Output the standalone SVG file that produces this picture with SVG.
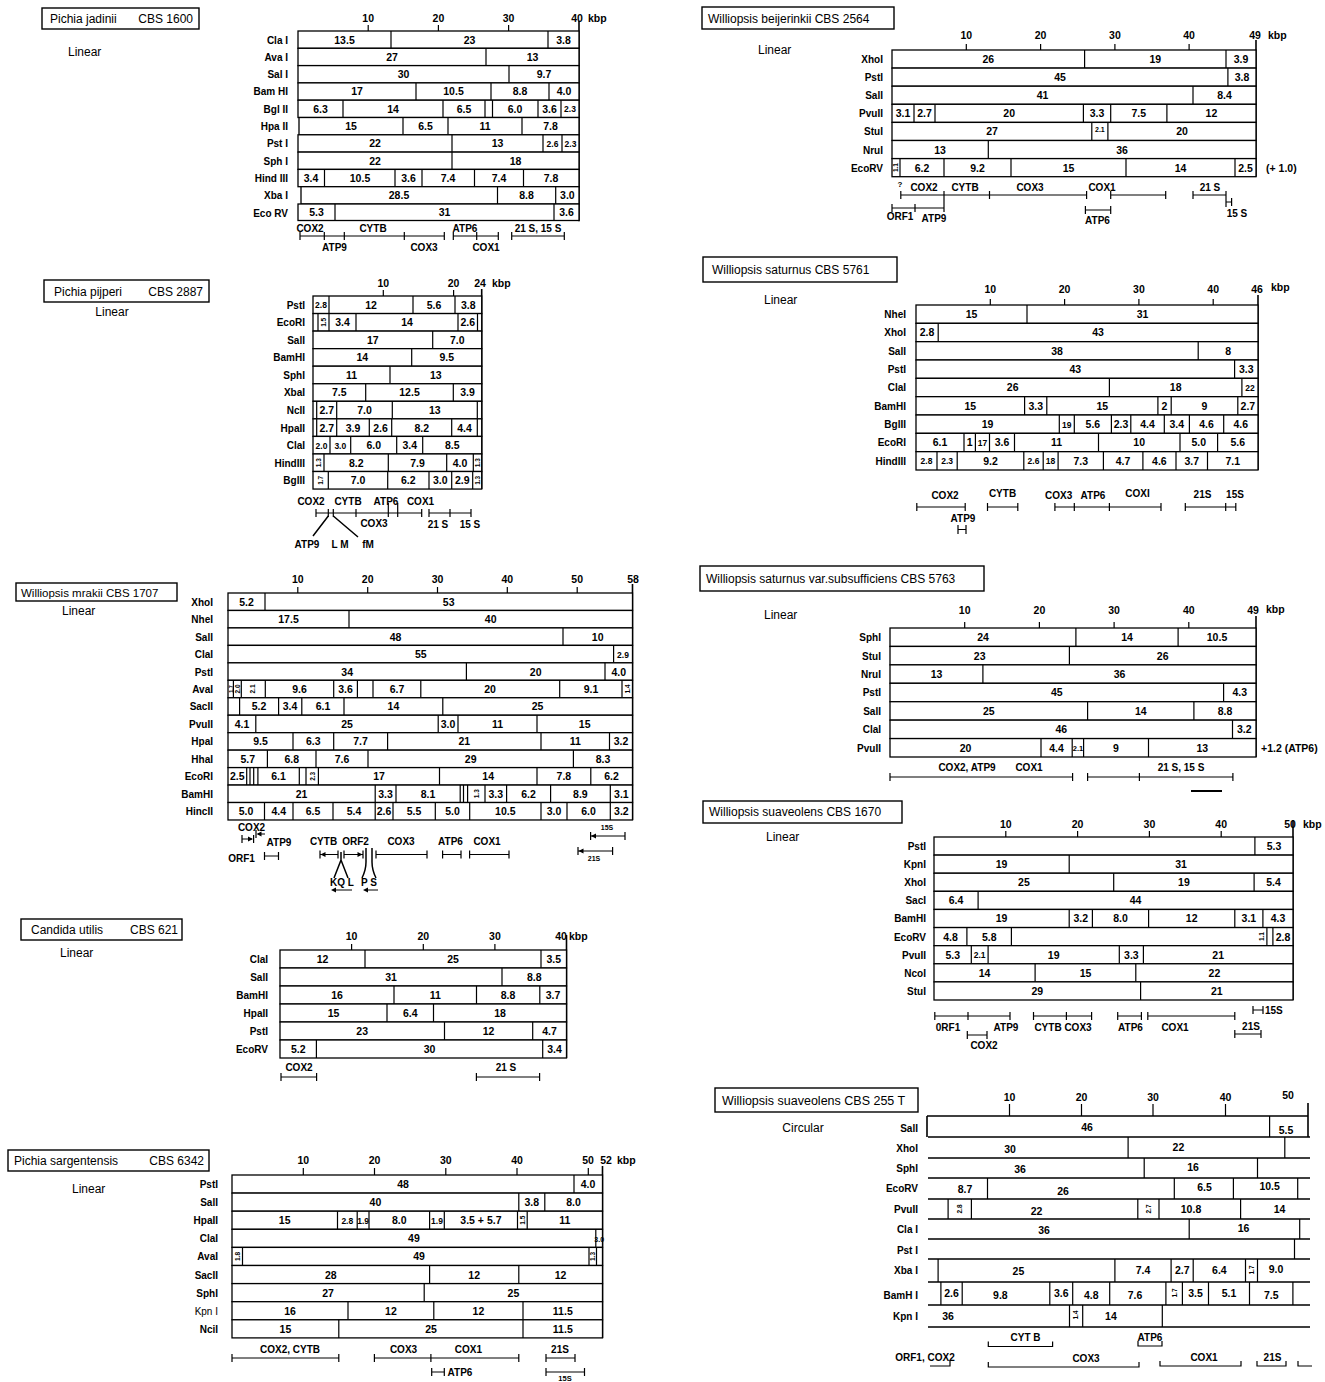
<svg xmlns="http://www.w3.org/2000/svg" width="1325" height="1382" viewBox="0 0 1325 1382">
<style>
text{font-family:"Liberation Sans",Arial,Helvetica,sans-serif;fill:#000}
.b{fill:#fff;stroke:#000;stroke-width:1.3}
.tb{fill:#fff;stroke:#000;stroke-width:1.4}
.c{fill:none;stroke:#000;stroke-width:1.2}
.ax{fill:none;stroke:#000;stroke-width:1.6}
.d{fill:none;stroke:#000;stroke-width:1.5}
.n{font-size:10.5px;font-weight:bold;text-anchor:middle}
.ns{font-size:10.5px;font-weight:bold}
.k{font-size:8.5px}
.r{font-size:6.5px;font-weight:bold;text-anchor:middle}
.e{font-size:10px;font-weight:bold;text-anchor:end}
.t{font-size:12px}
.g{font-size:10px;font-weight:bold;text-anchor:middle}
.gs{font-size:7px;font-weight:bold;text-anchor:middle}
</style>
<rect width="1325" height="1382" fill="#fff"/>

<g id="pichia-jadinii">
<rect class="tb" x="42" y="8" width="157" height="21"/>
<text class="t" x="50" y="23">Pichia jadinii</text>
<text class="t" x="193" y="23" text-anchor="end">CBS 1600</text>
<text class="t" x="68" y="56">Linear</text>
<path class="c" d="M368.2 25V31M438.4 25V31M508.6 25V31"/>
<path class="ax" d="M579 21V221.3"/>
<text class="n" x="368.2" y="22">10</text><text class="n" x="438.4" y="22">20</text><text class="n" x="508.6" y="22">30</text><text class="n" x="577" y="22">40</text><text class="ns" x="588" y="22">kbp</text>
<g transform="translate(0,31)"><text class="e" x="288" y="12.6">Cla I</text><rect class="b" x="298" width="281" height="17.3"/><path class="c" d="M391 0v17.3M548 0v17.3"/><text class="n" x="344.5" y="12.6">13.5</text><text class="n" x="469.5" y="12.6">23</text><text class="n" x="563.5" y="12.6">3.8</text></g>
<g transform="translate(0,48.3)"><text class="e" x="288" y="12.6">Ava I</text><rect class="b" x="298" width="281" height="17.3"/><path class="c" d="M486 0v17.3"/><text class="n" x="392" y="12.6">27</text><text class="n" x="532.5" y="12.6">13</text></g>
<g transform="translate(0,65.6)"><text class="e" x="288" y="12.6">Sal I</text><rect class="b" x="298" width="281" height="17.3"/><path class="c" d="M509 0v17.3"/><text class="n" x="403.5" y="12.6">30</text><text class="n" x="544" y="12.6">9.7</text></g>
<g transform="translate(0,82.9)"><text class="e" x="288" y="12.6">Bam HI</text><rect class="b" x="298" width="281" height="17.3"/><path class="c" d="M416 0v17.3M491 0v17.3M549 0v17.3"/><text class="n" x="357" y="12.6">17</text><text class="n" x="453.5" y="12.6">10.5</text><text class="n" x="520" y="12.6">8.8</text><text class="n" x="564" y="12.6">4.0</text></g>
<g transform="translate(0,100.2)"><text class="e" x="288" y="12.6">Bgl II</text><rect class="b" x="298" width="281" height="17.3"/><path class="c" d="M343 0v17.3M443 0v17.3M485 0v17.3M492.5 0v17.3M538 0v17.3M561 0v17.3"/><text class="n" x="320.5" y="12.6">6.3</text><text class="n" x="393" y="12.6">14</text><text class="n" x="464" y="12.6">6.5</text><text class="n" x="515" y="12.6">6.0</text><text class="n" x="549.5" y="12.6">3.6</text><text class="n k" x="570" y="12.3">2.3</text></g>
<g transform="translate(0,117.5)"><text class="e" x="288" y="12.6">Hpa II</text><rect class="b" x="299" width="280" height="17.3"/><path class="c" d="M403 0v17.3M448 0v17.3M522 0v17.3"/><text class="n" x="351" y="12.6">15</text><text class="n" x="425.5" y="12.6">6.5</text><text class="n" x="485" y="12.6">11</text><text class="n" x="550.5" y="12.6">7.8</text></g>
<g transform="translate(0,134.8)"><text class="e" x="288" y="12.6">Pst I</text><rect class="b" x="298" width="281" height="17.3"/><path class="c" d="M452 0v17.3M543 0v17.3M562 0v17.3"/><text class="n" x="375" y="12.6">22</text><text class="n" x="497.5" y="12.6">13</text><text class="n k" x="552.5" y="12.3">2.6</text><text class="n k" x="570.5" y="12.3">2.3</text></g>
<g transform="translate(0,152.1)"><text class="e" x="288" y="12.6">Sph I</text><rect class="b" x="298" width="281" height="17.3"/><path class="c" d="M452 0v17.3"/><text class="n" x="375" y="12.6">22</text><text class="n" x="515.5" y="12.6">18</text></g>
<g transform="translate(0,169.4)"><text class="e" x="288" y="12.6">Hind III</text><rect class="b" x="298" width="281" height="17.3"/><path class="c" d="M324.5 0v17.3M395 0v17.3M422 0v17.3M474.5 0v17.3M523.5 0v17.3"/><text class="n" x="311" y="12.6">3.4</text><text class="n" x="360" y="12.6">10.5</text><text class="n" x="408.5" y="12.6">3.6</text><text class="n" x="448" y="12.6">7.4</text><text class="n" x="499" y="12.6">7.4</text><text class="n" x="551" y="12.6">7.8</text></g>
<g transform="translate(0,186.7)"><text class="e" x="288" y="12.6">Xba I</text><rect class="b" x="301" width="278" height="17.3"/><path class="c" d="M497.5 0v17.3M555.7 0v17.3"/><text class="n" x="399" y="12.6">28.5</text><text class="n" x="526.6" y="12.6">8.8</text><text class="n" x="567.4" y="12.6">3.0</text></g>
<g transform="translate(0,204)"><text class="e" x="288" y="12.6">Eco RV</text><rect class="b" x="298" width="281" height="16.5"/><path class="c" d="M335 0v16.5M554 0v16.5"/><text class="n" x="316.5" y="12.4">5.3</text><text class="n" x="444.5" y="12.4">31</text><text class="n" x="566.5" y="12.4">3.6</text></g>
<path class="c" d="M300 236H444.3M453.3 236H498.3M511.7 236H564.3M300 232v8M324.3 232v8M344.3 232v8M404.3 232v8M444.3 232v8M453.3 232v8M476.7 232v8M498.3 232v8M511.7 232v8M564.3 232v8"/>
<text class="g" x="310" y="232">COX2</text><text class="g" x="373" y="232">CYTB</text><text class="g" x="465" y="232">ATP6</text><text class="g" x="538" y="232">21 S, 15 S</text>
<text class="g" x="334.5" y="251">ATP9</text><text class="g" x="424" y="251">COX3</text><text class="g" x="486" y="251">COX1</text>
</g>

<g id="pichia-pijperi">
<rect class="tb" x="44" y="280" width="165" height="22"/>
<text class="t" x="54" y="296">Pichia pijperi</text>
<text class="t" x="203" y="296" text-anchor="end">CBS 2887</text>
<text class="t" x="112" y="316" text-anchor="middle">Linear</text>
<path class="c" d="M383.3 290V296M453.6 290V296"/>
<path class="ax" d="M481.7 289V489"/>
<text class="n" x="383.3" y="287">10</text><text class="n" x="453.6" y="287">20</text><text class="n" x="480" y="287">24</text><text class="ns" x="492" y="287">kbp</text>
<g transform="translate(0,296)"><text class="e" x="305" y="12.7">PstI</text><rect class="b" x="313" width="168.7" height="17.55"/><path class="c" d="M329 0v17.55M413 0v17.55M455 0v17.55"/><text class="n k" x="321" y="12.4">2.8</text><text class="n" x="371" y="12.7">12</text><text class="n" x="434" y="12.7">5.6</text><text class="n" x="468.3" y="12.7">3.8</text></g>
<g transform="translate(0,313.55)"><text class="e" x="305" y="12.7">EcoRI</text><rect class="b" x="313" width="168.7" height="17.55"/><path class="c" d="M318 0v17.55M329 0v17.55M356 0v17.55M458 0v17.55M477.5 0v17.55"/><text class="r" transform="translate(323.5,8.8) rotate(-90)" y="2.3">1.5</text><text class="n" x="342.5" y="12.7">3.4</text><text class="n" x="407" y="12.7">14</text><text class="n" x="467.7" y="12.7">2.6</text></g>
<g transform="translate(0,331.1)"><text class="e" x="305" y="12.7">SalI</text><rect class="b" x="313" width="168.7" height="17.55"/><path class="c" d="M432.7 0v17.55"/><text class="n" x="372.8" y="12.7">17</text><text class="n" x="457.2" y="12.7">7.0</text></g>
<g transform="translate(0,348.65)"><text class="e" x="305" y="12.7">BamHI</text><rect class="b" x="313" width="168.7" height="17.55"/><path class="c" d="M411.7 0v17.55"/><text class="n" x="362.3" y="12.7">14</text><text class="n" x="446.7" y="12.7">9.5</text></g>
<g transform="translate(0,366.2)"><text class="e" x="305" y="12.7">SphI</text><rect class="b" x="313" width="168.7" height="17.55"/><path class="c" d="M390 0v17.55"/><text class="n" x="351.5" y="12.7">11</text><text class="n" x="435.8" y="12.7">13</text></g>
<g transform="translate(0,383.75)"><text class="e" x="305" y="12.7">XbaI</text><rect class="b" x="313" width="168.7" height="17.55"/><path class="c" d="M365.7 0v17.55M453.3 0v17.55"/><text class="n" x="339.3" y="12.7">7.5</text><text class="n" x="409.5" y="12.7">12.5</text><text class="n" x="467.5" y="12.7">3.9</text></g>
<g transform="translate(0,401.3)"><text class="e" x="305" y="12.7">NcII</text><rect class="b" x="313" width="168.7" height="17.55"/><path class="c" d="M316.7 0v17.55M336.7 0v17.55M392.3 0v17.55M477.3 0v17.55"/><text class="n" x="326.7" y="12.7">2.7</text><text class="n" x="364.5" y="12.7">7.0</text><text class="n" x="434.8" y="12.7">13</text></g>
<g transform="translate(0,418.85)"><text class="e" x="305" y="12.7">HpaII</text><rect class="b" x="313" width="168.7" height="17.55"/><path class="c" d="M316.7 0v17.55M336.7 0v17.55M369.3 0v17.55M391.7 0v17.55M451.7 0v17.55M477.3 0v17.55"/><text class="n" x="326.7" y="12.7">2.7</text><text class="n" x="353" y="12.7">3.9</text><text class="n" x="380.5" y="12.7">2.6</text><text class="n" x="421.7" y="12.7">8.2</text><text class="n" x="464.5" y="12.7">4.4</text></g>
<g transform="translate(0,436.4)"><text class="e" x="305" y="12.7">ClaI</text><rect class="b" x="313" width="168.7" height="17.55"/><path class="c" d="M330 0v17.55M350.7 0v17.55M396.7 0v17.55M422.7 0v17.55"/><text class="n k" x="321.5" y="12.4">2.0</text><text class="n k" x="340.3" y="12.4">3.0</text><text class="n" x="373.7" y="12.7">6.0</text><text class="n" x="409.7" y="12.7">3.4</text><text class="n" x="452.2" y="12.7">8.5</text></g>
<g transform="translate(0,453.95)"><text class="e" x="305" y="12.7">HindIII</text><rect class="b" x="313" width="168.7" height="17.55"/><path class="c" d="M324 0v17.55M388.3 0v17.55M446.7 0v17.55M473.3 0v17.55"/><text class="r" transform="translate(318.5,8.8) rotate(-90)" y="2.3">1.3</text><text class="n" x="356.2" y="12.7">8.2</text><text class="n" x="417.5" y="12.7">7.9</text><text class="n" x="460" y="12.7">4.0</text><text class="r" transform="translate(477.5,8.8) rotate(-90)" y="2.3">1.3</text></g>
<g transform="translate(0,471.5)"><text class="e" x="305" y="12.7">BglII</text><rect class="b" x="313" width="168.7" height="17.55"/><path class="c" d="M328.3 0v17.55M387.7 0v17.55M429 0v17.55M451.7 0v17.55M472.7 0v17.55"/><text class="r" transform="translate(320.7,8.8) rotate(-90)" y="2.3">1.7</text><text class="n" x="358" y="12.7">7.0</text><text class="n" x="408.3" y="12.7">6.2</text><text class="n" x="440.3" y="12.7">3.0</text><text class="n" x="462.2" y="12.7">2.9</text><text class="r" transform="translate(477.2,8.8) rotate(-90)" y="2.3">1.3</text></g>
<path class="c" d="M316 513H421.7M316 509v8M328.3 509v8M333.3 509v8M356 509v8M421.7 509v8M388.3 503v14M397.7 503v14M429 513H471M429 509v8M450 509v8M471 509v8"/>
<path class="d" d="M328.3 516L313 536M333.3 516L358 537"/>
<text class="g" x="311" y="505">COX2</text><text class="g" x="348" y="505">CYTB</text><text class="g" x="386" y="505">ATP6</text><text class="g" x="420.5" y="505">COX1</text>
<text class="g" x="374" y="527">COX3</text><text class="g" x="438" y="528">21 S</text><text class="g" x="470" y="528">15 S</text>
<text class="g" x="307" y="548">ATP9</text><text class="g" x="340" y="548">L M</text><text class="g" x="368" y="548">fM</text>
</g>

<g id="williopsis-mrakii">
<rect class="tb" x="16" y="583" width="161" height="18"/>
<text class="t" x="21" y="597" style="font-size:11.5px">Williopsis mrakii  CBS 1707</text>
<text class="t" x="62" y="615">Linear</text>
<path class="c" d="M297.8 587V593M367.7 587V593M437.5 587V593M507.3 587V593M577.2 587V593"/>
<path class="ax" d="M632.5 584V820"/>
<text class="n" x="297.8" y="583">10</text><text class="n" x="367.7" y="583">20</text><text class="n" x="437.5" y="583">30</text><text class="n" x="507.3" y="583">40</text><text class="n" x="577.2" y="583">50</text><text class="n" x="633" y="583">58</text>
<g transform="translate(0,593)"><text class="e" x="213" y="12.7">XhoI</text><rect class="b" x="228" width="404.5" height="17.46"/><path class="c" d="M265 0v17.46"/><text class="n" x="246.5" y="12.7">5.2</text><text class="n" x="448.7" y="12.7">53</text></g>
<g transform="translate(0,610.46)"><text class="e" x="213" y="12.7">NheI</text><rect class="b" x="228" width="404.5" height="17.46"/><path class="c" d="M349 0v17.46"/><text class="n" x="288.5" y="12.7">17.5</text><text class="n" x="490.7" y="12.7">40</text></g>
<g transform="translate(0,627.92)"><text class="e" x="213" y="12.7">SalI</text><rect class="b" x="228" width="404.5" height="17.46"/><path class="c" d="M563 0v17.46"/><text class="n" x="395.5" y="12.7">48</text><text class="n" x="597.7" y="12.7">10</text></g>
<g transform="translate(0,645.38)"><text class="e" x="213" y="12.7">ClaI</text><rect class="b" x="228" width="404.5" height="17.46"/><path class="c" d="M613.6 0v17.46"/><text class="n" x="420.8" y="12.7">55</text><text class="n k" x="623" y="12.4">2.9</text></g>
<g transform="translate(0,662.84)"><text class="e" x="213" y="12.7">PstI</text><rect class="b" x="228" width="404.5" height="17.46"/><path class="c" d="M466.4 0v17.46M605 0v17.46"/><text class="n" x="347.2" y="12.7">34</text><text class="n" x="535.7" y="12.7">20</text><text class="n" x="618.7" y="12.7">4.0</text></g>
<g transform="translate(0,680.3)"><text class="e" x="213" y="12.7">AvaI</text><rect class="b" x="228" width="404.5" height="17.46"/><path class="c" d="M233.4 0v17.46M241.3 0v17.46M265.3 0v17.46M333.7 0v17.46M357.4 0v17.46M373 0v17.46M420.8 0v17.46M559.7 0v17.46M622 0v17.46"/><text class="r" transform="translate(230.8,8.7) rotate(-90)" y="2.3" style="font-size:5.5px">1.7</text><text class="r" transform="translate(237.4,8.7) rotate(-90)" y="2.3">2.0</text><text class="r" transform="translate(253,8.7) rotate(-90)" y="2.3">2.1</text><text class="n" x="299.5" y="12.7">9.6</text><text class="n" x="345.5" y="12.7">3.6</text><text class="n" x="397" y="12.7">6.7</text><text class="n" x="490" y="12.7">20</text><text class="n" x="591" y="12.7">9.1</text><text class="r" transform="translate(627.2,8.7) rotate(-90)" y="2.3">1.4</text></g>
<g transform="translate(0,697.76)"><text class="e" x="213" y="12.7">SacII</text><rect class="b" x="228" width="404.5" height="17.46"/><path class="c" d="M239.6 0v17.46M278.6 0v17.46M301.8 0v17.46M344 0v17.46M442.8 0v17.46"/><text class="n" x="259" y="12.7">5.2</text><text class="n" x="290" y="12.7">3.4</text><text class="n" x="323" y="12.7">6.1</text><text class="n" x="393.4" y="12.7">14</text><text class="n" x="537.6" y="12.7">25</text></g>
<g transform="translate(0,715.22)"><text class="e" x="213" y="12.7">PvuII</text><rect class="b" x="228" width="404.5" height="17.46"/><path class="c" d="M255.8 0v17.46M438.2 0v17.46M458 0v17.46M537 0v17.46"/><text class="n" x="242" y="12.7">4.1</text><text class="n" x="347" y="12.7">25</text><text class="n" x="448" y="12.7">3.0</text><text class="n" x="497.5" y="12.7">11</text><text class="n" x="584.7" y="12.7">15</text></g>
<g transform="translate(0,732.68)"><text class="e" x="213" y="12.7">HpaI</text><rect class="b" x="228" width="404.5" height="17.46"/><path class="c" d="M293 0v17.46M333.7 0v17.46M387.6 0v17.46M541 0v17.46M609.5 0v17.46"/><text class="n" x="260.5" y="12.7">9.5</text><text class="n" x="313.3" y="12.7">6.3</text><text class="n" x="360.6" y="12.7">7.7</text><text class="n" x="464.3" y="12.7">21</text><text class="n" x="575.2" y="12.7">11</text><text class="n" x="621" y="12.7">3.2</text></g>
<g transform="translate(0,750.14)"><text class="e" x="213" y="12.7">HhaI</text><rect class="b" x="228" width="404.5" height="17.46"/><path class="c" d="M267.4 0v17.46M316 0v17.46M368 0v17.46M573.4 0v17.46"/><text class="n" x="247.7" y="12.7">5.7</text><text class="n" x="291.7" y="12.7">6.8</text><text class="n" x="342" y="12.7">7.6</text><text class="n" x="470.7" y="12.7">29</text><text class="n" x="603" y="12.7">8.3</text></g>
<g transform="translate(0,767.6)"><text class="e" x="213" y="12.7">EcoRI</text><rect class="b" x="228" width="404.5" height="17.46"/><path class="c" d="M246.7 0v17.46M250 0v17.46M253.7 0v17.46M257.9 0v17.46M299.3 0v17.46M306 0v17.46M318.4 0v17.46M439.5 0v17.46M537 0v17.46M590.8 0v17.46"/><text class="n" x="237.3" y="12.7">2.5</text><text class="n" x="278.6" y="12.7">6.1</text><text class="r" transform="translate(312.2,8.7) rotate(-90)" y="2.3">2.3</text><text class="n" x="379" y="12.7">17</text><text class="n" x="488.2" y="12.7">14</text><text class="n" x="563.9" y="12.7">7.8</text><text class="n" x="611.6" y="12.7">6.2</text></g>
<g transform="translate(0,785.06)"><text class="e" x="213" y="12.7">BamHI</text><rect class="b" x="228" width="404.5" height="17.46"/><path class="c" d="M375.2 0v17.46M396 0v17.46M460.2 0v17.46M463.5 0v17.46M467.6 0v17.46M485 0v17.46M506.6 0v17.46M550.6 0v17.46M610.3 0v17.46"/><text class="n" x="301.6" y="12.7">21</text><text class="n" x="385.6" y="12.7">3.3</text><text class="n" x="428" y="12.7">8.1</text><text class="r" transform="translate(476.3,8.7) rotate(-90)" y="2.3">1.3</text><text class="n" x="495.8" y="12.7">3.3</text><text class="n" x="528.6" y="12.7">6.2</text><text class="n" x="580.4" y="12.7">8.9</text><text class="n" x="621.4" y="12.7">3.1</text></g>
<g transform="translate(0,802.52)"><text class="e" x="213" y="12.7">HincII</text><rect class="b" x="228" width="404.5" height="17.46"/><path class="c" d="M264.5 0v17.46M293 0v17.46M333 0v17.46M375.2 0v17.46M393 0v17.46M435.3 0v17.46M469.7 0v17.46M541 0v17.46M567 0v17.46M610.3 0v17.46"/><text class="n" x="246" y="12.7">5.0</text><text class="n" x="278.7" y="12.7">4.4</text><text class="n" x="313" y="12.7">6.5</text><text class="n" x="354" y="12.7">5.4</text><text class="n" x="384" y="12.7">2.6</text><text class="n" x="414" y="12.7">5.5</text><text class="n" x="452.5" y="12.7">5.0</text><text class="n" x="505.3" y="12.7">10.5</text><text class="n" x="554" y="12.7">3.0</text><text class="n" x="588.6" y="12.7">6.0</text><text class="n" x="621.4" y="12.7">3.2</text></g>
<path class="c" d="M242 835v8M242 839H252M253.6 835v8M256 830v8M258 834H265M264.5 856H278.5M264.5 852v8M278.5 852v8M320 854.5H338M320 850.5v8M338 850.5v8M344 854.5H363M344 850.5v8M363 850.5v8M376 854.5H427M376 850.5v8M427 850.5v8M442.6 854.5H461M442.6 850.5v8M461 850.5v8M469.6 854.5H509M469.6 850.5v8M509 850.5v8M352 890H334M378 890H365M590.6 836H625M590.6 832v8M625 832v8M578 851H612.6M578 847v8M612.6 847v8"/>
<path class="d" d="M341 852V860L334 878M341 860L348 878M366 848V862Q366 870 362 878M372 848V862Q372 870 376 878"/>
<path d="M253 839l-5-2.5v5zM256.5 834l5-2.5v5zM320.5 854.5l5-2.5v5zM362.5 854.5l-5-2.5v5zM331 890l5-2.5v5zM363 890l5-2.5v5zM591 836l5-2.5v5zM578.5 851l5-2.5v5z"/>
<text class="g" x="251.5" y="831">COX2</text><text class="g" x="279" y="846">ATP9</text><text class="g" x="241.5" y="862">ORF1</text>
<text class="g" x="323.5" y="845">CYTB</text><text class="g" x="355.5" y="845">ORF2</text><text class="g" x="401" y="845">COX3</text><text class="g" x="450.5" y="845">ATP6</text><text class="g" x="487" y="845">COX1</text>
<text class="g" x="342" y="886">KQ L</text><text class="g" x="369" y="886">P S</text>
<text class="gs" x="607" y="830">15S</text><text class="gs" x="594" y="861">21S</text>
</g>

<g id="candida-utilis">
<rect class="tb" x="21" y="919" width="161" height="21"/>
<text class="t" x="31" y="934">Candida utilis</text>
<text class="t" x="178" y="934" text-anchor="end">CBS 621</text>
<text class="t" x="60" y="957">Linear</text>
<path class="c" d="M351.6 944V950M423.3 944V950M494.9 944V950"/>
<path class="ax" d="M566.5 935V1058"/>
<text class="n" x="351.6" y="940">10</text><text class="n" x="423.3" y="940">20</text><text class="n" x="494.9" y="940">30</text><text class="n" x="561" y="940">40</text><text class="ns" x="569" y="940">kbp</text>
<g transform="translate(0,950)"><text class="e" x="268" y="13">ClaI</text><rect class="b" x="280" width="286.5" height="18"/><path class="c" d="M365 0v18M541 0v18"/><text class="n" x="322.5" y="13">12</text><text class="n" x="453" y="13">25</text><text class="n" x="553.7" y="13">3.5</text></g>
<g transform="translate(0,968)"><text class="e" x="268" y="13">SalI</text><rect class="b" x="280" width="286.5" height="18"/><path class="c" d="M502 0v18"/><text class="n" x="391" y="13">31</text><text class="n" x="534.2" y="13">8.8</text></g>
<g transform="translate(0,986)"><text class="e" x="268" y="13">BamHI</text><rect class="b" x="280" width="286.5" height="18"/><path class="c" d="M394 0v18M476.5 0v18M539.8 0v18"/><text class="n" x="337" y="13">16</text><text class="n" x="435.2" y="13">11</text><text class="n" x="508" y="13">8.8</text><text class="n" x="553" y="13">3.7</text></g>
<g transform="translate(0,1004)"><text class="e" x="268" y="13">HpaII</text><rect class="b" x="280" width="286.5" height="18"/><path class="c" d="M387 0v18M433.5 0v18"/><text class="n" x="333.5" y="13">15</text><text class="n" x="410.2" y="13">6.4</text><text class="n" x="500" y="13">18</text></g>
<g transform="translate(0,1022)"><text class="e" x="268" y="13">PstI</text><rect class="b" x="280" width="286.5" height="18"/><path class="c" d="M444.5 0v18M532.7 0v18"/><text class="n" x="362.2" y="13">23</text><text class="n" x="488.6" y="13">12</text><text class="n" x="549.6" y="13">4.7</text></g>
<g transform="translate(0,1040)"><text class="e" x="268" y="13">EcoRV</text><rect class="b" x="280" width="286.5" height="18"/><path class="c" d="M316.4 0v18M542.7 0v18"/><text class="n" x="298.2" y="13">5.2</text><text class="n" x="429.5" y="13">30</text><text class="n" x="554.6" y="13">3.4</text></g>
<path class="c" d="M281 1077H316.6M281 1073v8M316.6 1073v8M476.4 1077H539.6M476.4 1073v8M539.6 1073v8"/>
<text class="g" x="299" y="1071">COX2</text><text class="g" x="506" y="1071">21 S</text>
</g>

<g id="pichia-sargentensis">
<rect class="tb" x="8" y="1150" width="201" height="21"/>
<text class="t" x="14" y="1165">Pichia sargentensis</text>
<text class="t" x="204" y="1165" text-anchor="end">CBS 6342</text>
<text class="t" x="72" y="1193">Linear</text>
<path class="c" d="M303.3 1168V1175M374.5 1168V1175M445.8 1168V1175M517 1168V1175M588.3 1168V1175"/>
<path class="ax" d="M602.5 1166V1338"/>
<text class="n" x="303.3" y="1164">10</text><text class="n" x="374.5" y="1164">20</text><text class="n" x="445.8" y="1164">30</text><text class="n" x="517" y="1164">40</text><text class="n" x="588" y="1164">50</text><text class="n" x="606" y="1164">52</text><text class="ns" x="617" y="1164">kbp</text>
<g transform="translate(0,1175)"><text class="e" x="218" y="13">PstI</text><rect class="b" x="232" width="370.5" height="18.1"/><path class="c" d="M574 0v18.1"/><text class="n" x="403" y="13">48</text><text class="n" x="588" y="13">4.0</text></g>
<g transform="translate(0,1193.1)"><text class="e" x="218" y="13">SalI</text><rect class="b" x="232" width="370.5" height="18.1"/><path class="c" d="M518.8 0v18.1M544.8 0v18.1"/><text class="n" x="375.4" y="13">40</text><text class="n" x="531.8" y="13">3.8</text><text class="n" x="573.6" y="13">8.0</text></g>
<g transform="translate(0,1211.2)"><text class="e" x="218" y="13">HpaII</text><rect class="b" x="232" width="370.5" height="18.1"/><path class="c" d="M337.5 0v18.1M357.2 0v18.1M369 0v18.1M429.6 0v18.1M444.3 0v18.1M517.5 0v18.1M527.2 0v18.1"/><text class="n" x="284.7" y="13">15</text><text class="n k" x="347.3" y="12.7">2.8</text><text class="n k" x="363.1" y="12.7">1.9</text><text class="n" x="399.3" y="13">8.0</text><text class="n k" x="437" y="12.7">1.9</text><text class="n" x="480.9" y="13">3.5 + 5.7</text><text class="r" transform="translate(522.3,9) rotate(-90)" y="2.3">1.5</text><text class="n" x="564.8" y="13">11</text></g>
<g transform="translate(0,1229.3)"><text class="e" x="218" y="13">ClaI</text><rect class="b" x="232" width="370.5" height="18.1"/><path class="c" d="M595.8 0v18.1"/><text class="n" x="413.9" y="13">49</text><text class="n" x="599.2" y="12.5" style="font-size:7px">3.0</text></g>
<g transform="translate(0,1247.4)"><text class="e" x="218" y="13">AvaI</text><rect class="b" x="232" width="370.5" height="18.1"/><path class="c" d="M242.5 0v18.1M589 0v18.1M596.5 0v18.1"/><text class="r" transform="translate(237.2,9) rotate(-90)" y="2.3">1.8</text><text class="n" x="419" y="13">49</text><text class="r" transform="translate(592.8,9) rotate(-90)" y="2.3">1.3</text></g>
<g transform="translate(0,1265.5)"><text class="e" x="218" y="13">SacII</text><rect class="b" x="232" width="370.5" height="18.1"/><path class="c" d="M429.6 0v18.1M518.8 0v18.1"/><text class="n" x="330.8" y="13">28</text><text class="n" x="474.2" y="13">12</text><text class="n" x="560.6" y="13">12</text></g>
<g transform="translate(0,1283.6)"><text class="e" x="218" y="13">SphI</text><rect class="b" x="232" width="370.5" height="18.1"/><path class="c" d="M424.2 0v18.1"/><text class="n" x="328" y="13">27</text><text class="n" x="513.4" y="13">25</text></g>
<g transform="translate(0,1301.7)"><text class="e" x="218" y="13" style="font-weight:normal">Kpn I</text><rect class="b" x="232" width="370.5" height="18.1"/><path class="c" d="M348 0v18.1M433.8 0v18.1M523 0v18.1"/><text class="n" x="290" y="13">16</text><text class="n" x="390.9" y="13">12</text><text class="n" x="478.4" y="13">12</text><text class="n" x="562.8" y="13">11.5</text></g>
<g transform="translate(0,1319.8)"><text class="e" x="218" y="13">NciI</text><rect class="b" x="232" width="370.5" height="18.1"/><path class="c" d="M338.8 0v18.1M523 0v18.1"/><text class="n" x="285.4" y="13">15</text><text class="n" x="431" y="13">25</text><text class="n" x="562.8" y="13">11.5</text></g>
<path class="c" d="M232 1358H338.8M232 1354v8M338.8 1354v8M374.4 1358H518.8M374.4 1354v8M430.9 1354v8M518.8 1354v8M546 1358H575M546 1354v8M575 1354v8M431.7 1372H444.3M431.7 1368v8M444.3 1368v8M546 1372H584.5M546 1368v8M584.5 1368v8"/>
<text class="g" x="290" y="1353">COX2, CYTB</text><text class="g" x="403.5" y="1353">COX3</text><text class="g" x="468.4" y="1353">COX1</text><text class="g" x="560" y="1353">21S</text>
<text class="g" x="460" y="1376">ATP6</text><text class="g" x="565" y="1381" style="font-size:7.5px">15S</text>
</g>

<g id="williopsis-beijerinkii">
<rect class="tb" x="702" y="7" width="192" height="22"/>
<text class="t" x="708" y="23">Williopsis beijerinkii CBS 2564</text>
<text class="t" x="758" y="54">Linear</text>
<path class="c" d="M966.3 44V50M1040.6 44V50M1114.9 44V50M1189.1 44V50"/>
<path class="ax" d="M1256 40V176.7"/>
<text class="n" x="966.3" y="39">10</text><text class="n" x="1040.6" y="39">20</text><text class="n" x="1114.9" y="39">30</text><text class="n" x="1189.1" y="39">40</text><text class="n" x="1255" y="39">49</text><text class="ns" x="1268" y="39">kbp</text>
<g transform="translate(0,50)"><text class="e" x="883" y="13">XhoI</text><rect class="b" x="892" width="364" height="18.1"/><path class="c" d="M1084.6 0v18.1M1226 0v18.1"/><text class="n" x="988.3" y="13">26</text><text class="n" x="1155.3" y="13">19</text><text class="n" x="1241" y="13">3.9</text></g>
<g transform="translate(0,68.1)"><text class="e" x="883" y="13">PstI</text><rect class="b" x="892" width="364" height="18.1"/><path class="c" d="M1227.9 0v18.1"/><text class="n" x="1060" y="13">45</text><text class="n" x="1242" y="13">3.8</text></g>
<g transform="translate(0,86.2)"><text class="e" x="883" y="13">SalI</text><rect class="b" x="892" width="364" height="18.1"/><path class="c" d="M1193 0v18.1"/><text class="n" x="1042.5" y="13">41</text><text class="n" x="1224.5" y="13">8.4</text></g>
<g transform="translate(0,104.3)"><text class="e" x="883" y="13">PvuII</text><rect class="b" x="892" width="364" height="18.1"/><path class="c" d="M914 0v18.1M935 0v18.1M1083.4 0v18.1M1110.7 0v18.1M1166.9 0v18.1"/><text class="n" x="903" y="13">3.1</text><text class="n" x="924.5" y="13">2.7</text><text class="n" x="1009.2" y="13">20</text><text class="n" x="1097" y="13">3.3</text><text class="n" x="1138.8" y="13">7.5</text><text class="n" x="1211.4" y="13">12</text></g>
<g transform="translate(0,122.4)"><text class="e" x="883" y="13">StuI</text><rect class="b" x="892" width="364" height="18.1"/><path class="c" d="M1091.8 0v18.1M1107.9 0v18.1"/><text class="n" x="992" y="13">27</text><text class="n" x="1099.9" y="10" style="font-size:7px">2.1</text><text class="n" x="1182" y="13">20</text></g>
<g transform="translate(0,140.5)"><text class="e" x="883" y="13">NruI</text><rect class="b" x="892" width="364" height="18.1"/><path class="c" d="M988.3 0v18.1"/><text class="n" x="940" y="13">13</text><text class="n" x="1122" y="13">36</text></g>
<g transform="translate(0,158.6)"><text class="e" x="883" y="13">EcoRV</text><rect class="b" x="892" width="364" height="18.1"/><path class="c" d="M900 0v18.1M944 0v18.1M1011 0v18.1M1126 0v18.1M1235 0v18.1"/><text class="r" transform="translate(896,9) rotate(-90)" y="2.3">1.1</text><text class="n" x="922" y="13">6.2</text><text class="n" x="977.5" y="13">9.2</text><text class="n" x="1068.5" y="13">15</text><text class="n" x="1180.5" y="13">14</text><text class="n" x="1245.5" y="13">2.5</text><text class="ns" x="1266" y="13">(+ 1.0)</text></g>
<path class="c" d="M900.8 195H1086.6M900.8 191v8M989.5 191v8M1086.6 191v8M944 191V212M1110.7 195H1165.7M1110.7 191v8M1165.7 191v8M1193 195H1226M1193 191v8M1226 191V207M1226 202H1231.6M1231.6 198v8M892 208H944M892 204v8M915 204v8M1085.4 210H1110.7M1085.4 206v8M1110.7 206v8"/>
<text class="g" x="900" y="187" style="font-size:8px">?</text>
<text class="g" x="924" y="191">COX2</text><text class="g" x="965" y="191">CYTB</text><text class="g" x="1030" y="191">COX3</text><text class="g" x="1102" y="191">COX1</text><text class="g" x="1210" y="191">21 S</text>
<text class="g" x="900" y="220">ORF1</text><text class="g" x="934" y="222">ATP9</text><text class="g" x="1097.5" y="224">ATP6</text><text class="g" x="1237" y="217">15 S</text>
</g>

<g id="williopsis-saturnus">
<rect class="tb" x="703" y="257" width="194" height="25"/>
<text class="t" x="712" y="274">Williopsis saturnus CBS 5761</text>
<text class="t" x="764" y="304">Linear</text>
<path class="c" d="M990.3 299V305M1064.6 299V305M1138.9 299V305M1213.2 299V305"/>
<path class="ax" d="M1258 295V470"/>
<text class="n" x="990.3" y="293">10</text><text class="n" x="1064.6" y="293">20</text><text class="n" x="1138.9" y="293">30</text><text class="n" x="1213.2" y="293">40</text><text class="n" x="1257" y="293">46</text><text class="ns" x="1271" y="291">kbp</text>
<g transform="translate(0,305)"><text class="e" x="906" y="13.1">NheI</text><rect class="b" x="916" width="342" height="18.33"/><path class="c" d="M1027 0v18.33"/><text class="n" x="971.5" y="13.1">15</text><text class="n" x="1142.5" y="13.1">31</text></g>
<g transform="translate(0,323.33)"><text class="e" x="906" y="13.1">XhoI</text><rect class="b" x="916" width="342" height="18.33"/><path class="c" d="M938.2 0v18.33"/><text class="n" x="927.1" y="13.1">2.8</text><text class="n" x="1098.1" y="13.1">43</text></g>
<g transform="translate(0,341.67)"><text class="e" x="906" y="13.1">SalI</text><rect class="b" x="916" width="342" height="18.33"/><path class="c" d="M1198.2 0v18.33"/><text class="n" x="1057.1" y="13.1">38</text><text class="n" x="1228.1" y="13.1">8</text></g>
<g transform="translate(0,360)"><text class="e" x="906" y="13.1">PstI</text><rect class="b" x="916" width="342" height="18.33"/><path class="c" d="M1234.6 0v18.33"/><text class="n" x="1075.3" y="13.1">43</text><text class="n" x="1246.3" y="13.1">3.3</text></g>
<g transform="translate(0,378.33)"><text class="e" x="906" y="13.1">ClaI</text><rect class="b" x="916" width="342" height="18.33"/><path class="c" d="M1109.4 0v18.33M1241.9 0v18.33"/><text class="n" x="1012.7" y="13.1">26</text><text class="n" x="1175.7" y="13.1">18</text><text class="n k" x="1250" y="12.8">22</text></g>
<g transform="translate(0,396.67)"><text class="e" x="906" y="13.1">BamHI</text><rect class="b" x="916" width="342" height="18.33"/><path class="c" d="M1024.6 0v18.33M1046.8 0v18.33M1157.9 0v18.33M1171.2 0v18.33M1237.8 0v18.33"/><text class="n" x="970.3" y="13.1">15</text><text class="n" x="1035.7" y="13.1">3.3</text><text class="n" x="1102.3" y="13.1">15</text><text class="n" x="1164.5" y="13.1">2</text><text class="n" x="1204.5" y="13.1">9</text><text class="n" x="1247.9" y="13.1">2.7</text></g>
<g transform="translate(0,415)"><text class="e" x="906" y="13.1">BglII</text><rect class="b" x="916" width="342" height="18.33"/><path class="c" d="M1059.3 0v18.33M1074.3 0v18.33M1111.4 0v18.33M1130.8 0v18.33M1164.3 0v18.33M1189.4 0v18.33M1223.7 0v18.33"/><text class="n" x="987.6" y="13.1">19</text><text class="n k" x="1066.8" y="12.8">19</text><text class="n" x="1092.9" y="13.1">5.6</text><text class="n" x="1121.1" y="13.1">2.3</text><text class="n" x="1147.5" y="13.1">4.4</text><text class="n" x="1176.8" y="13.1">3.4</text><text class="n" x="1206.5" y="13.1">4.6</text><text class="n" x="1240.8" y="13.1">4.6</text></g>
<g transform="translate(0,433.33)"><text class="e" x="906" y="13.1">EcoRI</text><rect class="b" x="916" width="342" height="18.33"/><path class="c" d="M964 0v18.33M975.4 0v18.33M989.5 0v18.33M1014.5 0v18.33M1098.5 0v18.33M1180 0v18.33M1217.6 0v18.33"/><text class="n" x="940" y="13.1">6.1</text><text class="n" x="969.7" y="13.1">1</text><text class="n k" x="982.4" y="12.8">17</text><text class="n" x="1002" y="13.1">3.6</text><text class="n" x="1056.5" y="13.1">11</text><text class="n" x="1139.2" y="13.1">10</text><text class="n" x="1198.8" y="13.1">5.0</text><text class="n" x="1237.8" y="13.1">5.6</text></g>
<g transform="translate(0,451.67)"><text class="e" x="906" y="13.1">HindIII</text><rect class="b" x="916" width="342" height="18.33"/><path class="c" d="M937 0v18.33M957.2 0v18.33M1023.8 0v18.33M1043.2 0v18.33M1058.1 0v18.33M1103.4 0v18.33M1142.9 0v18.33M1176 0v18.33M1207.5 0v18.33"/><text class="n k" x="926.5" y="12.8">2.8</text><text class="n k" x="947.1" y="12.8">2.3</text><text class="n" x="990.5" y="13.1">9.2</text><text class="n k" x="1033.5" y="12.8">2.6</text><text class="n k" x="1050.6" y="12.8">18</text><text class="n" x="1080.7" y="13.1">7.3</text><text class="n" x="1123.1" y="13.1">4.7</text><text class="n" x="1159.4" y="13.1">4.6</text><text class="n" x="1191.7" y="13.1">3.7</text><text class="n" x="1232.7" y="13.1">7.1</text></g>
<path class="c" d="M916.8 507H965.2M916.8 503v8M965.2 503v8M987.5 507H1017.8M987.5 503v8M1017.8 503v8M1054.9 507H1161M1054.9 503v8M1074.3 503v8M1109.4 503v8M1161 503v8M1185.3 507H1235.8M1185.3 503v8M1225.7 503v8M1235.8 503v8M958 525v9M966 525v9M958 529.5H966"/>
<text class="g" x="945" y="499">COX2</text><text class="g" x="1002.5" y="497">CYTB</text><text class="g" x="1058.6" y="499">COX3</text><text class="g" x="1093" y="499">ATP6</text><text class="g" x="1137.5" y="497">COXI</text><text class="g" x="1202.5" y="498">21S</text><text class="g" x="1235" y="498">15S</text>
<text class="g" x="963" y="522">ATP9</text>
</g>

<g id="williopsis-saturnus-subsufficiens">
<rect class="tb" x="700" y="566" width="284" height="25"/>
<text class="t" x="706" y="583">Williopsis saturnus var.subsufficiens CBS 5763</text>
<text class="t" x="764" y="619">Linear</text>
<path class="c" d="M964.7 622V628M1039.4 622V628M1114.1 622V628M1188.8 622V628"/>
<path class="ax" d="M1256 616V757"/>
<text class="n" x="964.7" y="614">10</text><text class="n" x="1039.4" y="614">20</text><text class="n" x="1114.1" y="614">30</text><text class="n" x="1188.8" y="614">40</text><text class="n" x="1253" y="614">49</text><text class="ns" x="1266" y="613">kbp</text>
<g transform="translate(0,628)"><text class="e" x="881" y="13.2">SphI</text><rect class="b" x="890" width="366" height="18.43"/><path class="c" d="M1075.9 0v18.43M1178.1 0v18.43"/><text class="n" x="983" y="13.2">24</text><text class="n" x="1127" y="13.2">14</text><text class="n" x="1217" y="13.2">10.5</text></g>
<g transform="translate(0,646.43)"><text class="e" x="881" y="13.2">StuI</text><rect class="b" x="890" width="366" height="18.43"/><path class="c" d="M1069.4 0v18.43"/><text class="n" x="979.7" y="13.2">23</text><text class="n" x="1162.7" y="13.2">26</text></g>
<g transform="translate(0,664.86)"><text class="e" x="881" y="13.2">NruI</text><rect class="b" x="890" width="366" height="18.43"/><path class="c" d="M982.9 0v18.43"/><text class="n" x="936.5" y="13.2">13</text><text class="n" x="1119.5" y="13.2">36</text></g>
<g transform="translate(0,683.29)"><text class="e" x="881" y="13.2">PstI</text><rect class="b" x="890" width="366" height="18.43"/><path class="c" d="M1223.6 0v18.43"/><text class="n" x="1056.8" y="13.2">45</text><text class="n" x="1239.8" y="13.2">4.3</text></g>
<g transform="translate(0,701.71)"><text class="e" x="881" y="13.2">SalI</text><rect class="b" x="890" width="366" height="18.43"/><path class="c" d="M1087.6 0v18.43M1193.9 0v18.43"/><text class="n" x="988.8" y="13.2">25</text><text class="n" x="1140.8" y="13.2">14</text><text class="n" x="1225" y="13.2">8.8</text></g>
<g transform="translate(0,720.14)"><text class="e" x="881" y="13.2">ClaI</text><rect class="b" x="890" width="366" height="18.43"/><path class="c" d="M1232.5 0v18.43"/><text class="n" x="1061.3" y="13.2">46</text><text class="n" x="1244.3" y="13.2">3.2</text></g>
<g transform="translate(0,738.57)"><text class="e" x="881" y="13.2">PvuII</text><rect class="b" x="890" width="366" height="18.43"/><path class="c" d="M1041 0v18.43M1072.2 0v18.43M1083.6 0v18.43M1148.5 0v18.43"/><text class="n" x="965.5" y="13.2">20</text><text class="n" x="1056.6" y="13.2">4.4</text><text class="n" x="1078" y="12.6" style="font-size:7.5px">2.1</text><text class="n" x="1116" y="13.2">9</text><text class="n" x="1202.3" y="13.2">13</text><text class="ns" x="1261" y="13.2">+1.2 (ATP6)</text></g>
<path class="c" d="M890 777H1072.6M890 773v8M1072.6 773v8M1087.6 777H1232.9M1087.6 773v8M1139.4 773v8M1232.9 773v8"/>
<path d="M1191 791H1222" stroke="#000" stroke-width="2"/>
<text class="g" x="967" y="771">COX2, ATP9</text><text class="g" x="1029" y="771">COX1</text><text class="g" x="1181" y="771">21 S, 15 S</text>
</g>

<g id="williopsis-suaveolens-1670">
<rect class="tb" x="703" y="801" width="199" height="22"/>
<text class="t" x="709" y="816">Williopsis suaveolens CBS 1670</text>
<text class="t" x="766" y="841">Linear</text>
<path class="c" d="M1005.8 831V837M1077.6 831V837M1149.4 831V837M1221.2 831V837"/>
<path class="ax" d="M1293 820V1000"/>
<text class="n" x="1005.8" y="828">10</text><text class="n" x="1077.6" y="828">20</text><text class="n" x="1149.4" y="828">30</text><text class="n" x="1221.2" y="828">40</text><text class="n" x="1290" y="828">50</text><text class="ns" x="1303" y="828">kbp</text>
<g transform="translate(0,837)"><text class="e" x="926" y="13">PstI</text><rect class="b" x="934" width="359" height="18.11"/><path class="c" d="M1254.9 0v18.11"/><text class="n" x="1274" y="13">5.3</text></g>
<g transform="translate(0,855.11)"><text class="e" x="926" y="13">KpnI</text><rect class="b" x="934" width="359" height="18.11"/><path class="c" d="M1069.2 0v18.11"/><text class="n" x="1001.6" y="13">19</text><text class="n" x="1181.1" y="13">31</text></g>
<g transform="translate(0,873.22)"><text class="e" x="926" y="13">XhoI</text><rect class="b" x="934" width="359" height="18.11"/><path class="c" d="M1113.7 0v18.11M1254.1 0v18.11"/><text class="n" x="1023.9" y="13">25</text><text class="n" x="1183.9" y="13">19</text><text class="n" x="1273.6" y="13">5.4</text></g>
<g transform="translate(0,891.33)"><text class="e" x="926" y="13">SacI</text><rect class="b" x="934" width="359" height="18.11"/><path class="c" d="M978.1 0v18.11"/><text class="n" x="956" y="13">6.4</text><text class="n" x="1135.5" y="13">44</text></g>
<g transform="translate(0,909.44)"><text class="e" x="926" y="13">BamHI</text><rect class="b" x="934" width="359" height="18.11"/><path class="c" d="M1069.2 0v18.11M1092.4 0v18.11M1148.6 0v18.11M1234.8 0v18.11M1262.9 0v18.11"/><text class="n" x="1001.6" y="13">19</text><text class="n" x="1080.8" y="13">3.2</text><text class="n" x="1120.5" y="13">8.0</text><text class="n" x="1191.7" y="13">12</text><text class="n" x="1248.9" y="13">3.1</text><text class="n" x="1278" y="13">4.3</text></g>
<g transform="translate(0,927.56)"><text class="e" x="926" y="13">EcoRV</text><rect class="b" x="934" width="359" height="18.11"/><path class="c" d="M966.9 0v18.11M1011.4 0v18.11M1266.9 0v18.11M1272.9 0v18.11"/><text class="n" x="950.5" y="13">4.8</text><text class="n" x="989.2" y="13">5.8</text><text class="r" transform="translate(1262,9) rotate(-90)" y="2.3">1.1</text><text class="n" x="1283" y="13">2.8</text></g>
<g transform="translate(0,945.67)"><text class="e" x="926" y="13">PvuII</text><rect class="b" x="934" width="359" height="18.11"/><path class="c" d="M971.3 0v18.11M988.1 0v18.11M1119.3 0v18.11M1143.4 0v18.11"/><text class="n" x="952.7" y="13">5.3</text><text class="n k" x="979.7" y="12.7">2.1</text><text class="n" x="1053.7" y="13">19</text><text class="n" x="1131.4" y="13">3.3</text><text class="n" x="1218.2" y="13">21</text></g>
<g transform="translate(0,963.78)"><text class="e" x="926" y="13">NcoI</text><rect class="b" x="934" width="359" height="18.11"/><path class="c" d="M1035.1 0v18.11M1135.8 0v18.11"/><text class="n" x="984.6" y="13">14</text><text class="n" x="1085.5" y="13">15</text><text class="n" x="1214.4" y="13">22</text></g>
<g transform="translate(0,981.89)"><text class="e" x="926" y="13">StuI</text><rect class="b" x="934" width="359" height="18.11"/><path class="c" d="M1140.6 0v18.11"/><text class="n" x="1037.3" y="13">29</text><text class="n" x="1216.8" y="13">21</text></g>
<path class="c" d="M934.8 1016H1010M934.8 1012v8M968 1012v8M1010 1012v8M1033.5 1016H1091.6M1033.5 1012v8M1066.4 1012v8M1091.6 1012v8M1117.7 1016H1141.4M1117.7 1012v8M1141.4 1012v8M1147.8 1016H1234.8M1147.8 1012v8M1234.8 1012v8M1253 1010H1263M1253 1006v8M1263 1006v8M1234.8 1034H1261M1234.8 1030v8M1261 1030v8M967.3 1035H987M967.3 1031v8M987 1031v8"/>
<text class="g" x="948" y="1031">0RF1</text><text class="g" x="1006" y="1031">ATP9</text><text class="g" x="1063" y="1031">CYTB COX3</text><text class="g" x="1130.5" y="1031">ATP6</text><text class="g" x="1175" y="1031">COX1</text>
<text class="ns" x="1265" y="1014" style="font-size:10px">15S</text><text class="g" x="1251" y="1030">21S</text><text class="g" x="984" y="1049">COX2</text>
</g>

<g id="williopsis-suaveolens-255t">
<rect class="tb" x="715" y="1088" width="203" height="24"/>
<text class="t" x="722" y="1105" style="font-size:12.5px">Williopsis suaveolens  CBS 255 T</text>
<text class="t" x="803" y="1132" text-anchor="middle">Circular</text>
<path class="c" d="M1009.5 1104V1116M1081.5 1104V1116M1153 1104V1116M1225.5 1104V1116"/>
<path class="ax" d="M1308 1103V1137M927 1116V1137"/>
<text class="n" x="1009.5" y="1101">10</text><text class="n" x="1081.5" y="1101">20</text><text class="n" x="1153" y="1101">30</text><text class="n" x="1225.5" y="1101">40</text><text class="n" x="1288" y="1099">50</text>
<path class="ax" d="M927 1116H1308M928 1137H1310M928 1158H1310M928 1178H1310M928 1199H1310M928 1219H1310M928 1239H1310M928 1259H1310M928 1282H1310M928 1305H1310M928 1327H1310"/>
<path class="c" d="M1269.6 1116V1137M1128.1 1137V1158M1284.8 1137V1158M1144.2 1158V1178M1257.5 1158V1178M987.5 1178V1199M1174.3 1178V1199M1233.4 1178V1199M1297.7 1178V1199M948.1 1199V1219M971.4 1199V1219M1137.8 1199V1219M1159 1199V1219M1240.6 1199V1219M1189.2 1219V1239M1299.7 1219V1239M1294.5 1239V1259M938.1 1259V1282M1114.9 1259V1282M1171.1 1259V1282M1193.2 1259V1282M1245.5 1259V1282M1257.5 1259V1282M940.9 1282V1305M962.2 1282V1305M1049.8 1282V1305M1072.7 1282V1305M1109.7 1282V1305M1165.9 1282V1305M1182.4 1282V1305M1208.5 1282V1305M1249.5 1282V1305M1292.9 1282V1305M1069.5 1305V1327M1082.7 1305V1327M1162.3 1305V1327"/>
<text class="e" x="918" y="1132">SalI</text><text class="e" x="918" y="1152">XhoI</text><text class="e" x="918" y="1172">SphI</text><text class="e" x="918" y="1192">EcoRV</text><text class="e" x="918" y="1213">PvuII</text><text class="e" x="918" y="1233">Cla I</text><text class="e" x="918" y="1254">Pst I</text><text class="e" x="918" y="1274">Xba I</text><text class="e" x="918" y="1299">BamH I</text><text class="e" x="918" y="1320">Kpn I</text>
<text class="n" x="1087" y="1131">46</text><text class="n" x="1286" y="1134">5.5</text>
<text class="n" x="1010" y="1153">30</text><text class="n" x="1178.4" y="1151">22</text>
<text class="n" x="1020" y="1173">36</text><text class="n" x="1193" y="1171">16</text>
<text class="n" x="965" y="1193">8.7</text><text class="n" x="1063" y="1195">26</text><text class="n" x="1204.5" y="1191">6.5</text><text class="n" x="1269.6" y="1190">10.5</text>
<text class="r" transform="translate(959.8,1209) rotate(-90)" y="2.3">2.8</text><text class="n" x="1036.5" y="1215">22</text><text class="r" transform="translate(1148.5,1209) rotate(-90)" y="2.3">2.7</text><text class="n" x="1191" y="1213">10.8</text><text class="n" x="1279.6" y="1213">14</text>
<text class="n" x="1044" y="1234">36</text><text class="n" x="1243.5" y="1232">16</text>
<text class="n" x="1018.4" y="1275">25</text><text class="n" x="1143" y="1274">7.4</text><text class="n" x="1182.2" y="1274">2.7</text><text class="n" x="1219.4" y="1274">6.4</text><text class="r" transform="translate(1251.5,1270) rotate(-90)" y="2.3">1.7</text><text class="n" x="1276" y="1273">9.0</text>
<text class="n" x="951.5" y="1297">2.6</text><text class="n" x="1000.4" y="1299">9.8</text><text class="n" x="1061.2" y="1297">3.6</text><text class="n" x="1091.2" y="1299">4.8</text><text class="n" x="1135" y="1299">7.6</text><text class="r" transform="translate(1174.2,1293) rotate(-90)" y="2.3">1.7</text><text class="n" x="1195.5" y="1297">3.5</text><text class="n" x="1229" y="1297">5.1</text><text class="n" x="1271.2" y="1299">7.5</text>
<text class="n" x="948" y="1320">36</text><text class="r" transform="translate(1076,1315) rotate(-90)" y="2.3">1.4</text><text class="n" x="1110.9" y="1320">14</text>
<path class="c" d="M988.3 1341.5V1346.5H1052.6V1341.5M1138 1341V1346H1162V1341M930 1366H950V1360M988.3 1362V1367H1139V1362M1160 1361V1366H1241V1361M1257 1361V1366H1286V1361M1298 1361V1366H1312"/>
<text class="g" x="1025.5" y="1341">CYT B</text><text class="g" x="1150" y="1341">ATP6</text>
<text class="g" x="925" y="1361">ORF1, COX2</text><text class="g" x="1086" y="1362">COX3</text><text class="g" x="1204" y="1361">COX1</text><text class="g" x="1272.5" y="1361">21S</text>
</g>
</svg>
